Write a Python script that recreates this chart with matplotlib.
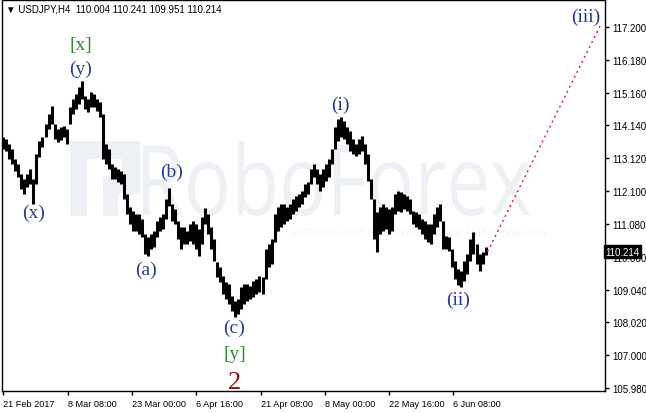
import matplotlib
matplotlib.use("Agg")
import matplotlib.pyplot as plt
import numpy as np
from matplotlib.textpath import TextPath
from matplotlib.patches import PathPatch, Rectangle
from matplotlib.font_manager import FontProperties
from matplotlib.transforms import Affine2D, IdentityTransform

# USDJPY H4, resampled to 3-bar (12h) high/low columns
highs = [113.78, 113.72, 113.56, 113.41, 113.10, 112.94, 112.63, 112.48, 112.63, 112.79,
         112.48, 113.25, 113.66, 113.78, 114.18, 114.50, 114.74, 114.18, 114.03, 114.09,
         114.12, 114.03, 114.71, 114.96, 115.12, 115.34, 115.52, 115.06, 114.96, 115.18,
         115.12, 114.96, 114.87, 114.50, 113.56, 113.41, 112.94, 112.85, 112.79, 112.72,
         112.63, 112.01, 111.60, 111.48, 111.39, 111.39, 111.23, 110.77, 110.67, 110.77,
         110.86, 111.17, 111.29, 111.39, 111.85, 112.20, 111.70, 111.54, 111.17, 110.98,
         110.98, 110.86, 111.08, 111.17, 111.08, 110.92, 111.29, 111.57, 111.39, 110.98,
         110.61, 109.90, 109.74, 109.46, 109.27, 109.21, 108.84, 108.68, 108.74, 109.12,
         109.21, 109.21, 109.15, 109.30, 109.37, 109.46, 109.43, 110.30, 110.45, 110.61,
         111.39, 111.60, 111.70, 111.70, 111.60, 111.70, 111.85, 111.95, 112.01, 112.10,
         112.32, 112.38, 112.79, 112.94, 112.79, 112.63, 112.79, 112.94, 113.10, 113.41,
         114.09, 114.34, 114.40, 114.28, 114.09, 113.97, 113.72, 113.56, 113.72, 113.81,
         113.56, 113.25, 112.48, 111.85, 111.45, 111.60, 111.70, 111.60, 111.54, 111.60,
         112.01, 112.10, 112.07, 112.01, 111.95, 111.85, 111.48, 111.45, 111.39, 111.23,
         111.17, 111.08, 111.08, 111.39, 111.60, 111.70, 111.17, 110.70, 110.67, 110.30,
         109.93, 109.68, 109.62, 109.93, 110.14, 110.61, 110.83, 110.45, 110.14, 110.21,
         110.36]
lows = [113.41, 113.35, 113.10, 112.94, 112.72, 112.54, 112.16, 112.01, 112.23, 112.32,
        111.70, 112.32, 113.16, 113.47, 113.78, 114.03, 114.18, 113.72, 113.63, 113.69,
        113.78, 113.56, 114.18, 114.50, 114.65, 114.81, 114.96, 114.65, 114.56, 114.71,
        114.71, 114.59, 114.40, 113.10, 112.94, 112.79, 112.48, 112.48, 112.38, 112.32,
        111.85, 111.39, 111.08, 110.86, 110.86, 110.77, 110.67, 110.14, 110.08, 110.30,
        110.36, 110.67, 110.86, 110.92, 111.23, 111.64, 111.17, 111.08, 110.61, 110.30,
        110.45, 110.45, 110.55, 110.45, 110.30, 110.08, 110.45, 111.08, 110.77, 110.30,
        109.93, 109.43, 109.27, 108.90, 108.74, 108.59, 108.37, 108.19, 108.28, 108.43,
        108.59, 108.68, 108.74, 108.81, 108.90, 108.96, 108.90, 109.37, 109.74, 109.83,
        110.52, 110.86, 110.98, 111.08, 111.17, 111.23, 111.39, 111.48, 111.60, 111.70,
        111.92, 112.01, 112.32, 112.54, 112.32, 112.10, 112.23, 112.41, 112.54, 112.94,
        113.41, 113.66, 113.78, 113.72, 113.56, 113.35, 113.25, 113.19, 113.25, 113.35,
        112.94, 112.41, 111.85, 110.61, 110.21, 110.77, 110.86, 110.92, 110.77, 110.86,
        111.39, 111.48, 111.45, 111.54, 111.48, 111.39, 111.08, 110.98, 110.92, 110.77,
        110.61, 110.52, 110.45, 110.77, 110.98, 111.17, 110.30, 110.30, 110.24, 109.74,
        109.37, 109.18, 109.12, 109.30, 109.52, 109.93, 110.14, 109.83, 109.62, 109.83,
        110.11]
last_close = 110.214
target_price = 117.23

date_labels = ["21 Feb 2017", "8 Mar 08:00", "23 Mar 00:00", "6 Apr 16:00",
               "21 Apr 08:00", "8 May 00:00", "22 May 16:00", "6 Jun 08:00"]
price_ticks = [105.980, 107.000, 108.020, 109.040, 110.060, 111.080,
               112.100, 113.120, 114.140, 115.160, 116.180, 117.200]

# wave labels: text, bar, price, colour, size
wave_labels = [
    ("[x]", 77, 116.67, "#2e8b2e", 14),
    ("(y)", 77, 115.93, "#2c3a8c", 14),
    ("(x)", 30, 111.45, "#2c3a8c", 14),
    ("(a)", 142, 109.68, "#2c3a8c", 14),
    ("(b)", 167, 112.72, "#2c3a8c", 14),
    ("(c)", 230, 107.87, "#2c3a8c", 14),
    ("[y]", 230, 107.06, "#2e8b2e", 14),
    ("2", 230, 106.18, "#8b0f0f", 19),
    ("(i)", 336, 114.81, "#2c3a8c", 14),
    ("(ii)", 453, 108.74, "#2c3a8c", 14),
    ("(iii)", 580, 117.54, "#2c3a8c", 14),
]

W, H = 646, 414
fig = plt.figure(figsize=(W / 100, H / 100), dpi=100)
fig.patch.set_facecolor("white")
ax = fig.add_axes([2 / W, 22 / H, 603 / W, 391 / H])
ax.set_xlim(-1.3, 598.9)
ax.set_ylim(105.885, 118.039)

# watermark (pixel coords, y from top)
def fit_text(s, family, x0, x1, ytop, ybot, color):
    tp = TextPath((0, 0), s, size=100, prop=FontProperties(family=family))
    bb = tp.get_extents()
    tr = (Affine2D().translate(-bb.x0, -bb.y0)
          .scale((x1 - x0) / bb.width, (ybot - ytop) / bb.height)
          .translate(x0, H - ybot))
    ax.add_patch(PathPatch(tr.transform_path(tp), facecolor=color, edgecolor="none",
                           transform=IdentityTransform(), zorder=0))

wm = "#edf0f4"
fit_text("RoboForex", "Open Sans", 143, 530, 142, 217, wm)
fit_text("ИСПОЛЬЗУЙ РОБОТОВ, ПОЛУЧАЙ ПРИБЫЛЬ", "Open Sans", 293, 546, 228, 238, "#f1f3f6")
for (rx0, ry0, rx1, ry1) in [(70, 142, 87, 217), (87, 142, 140, 160), (122, 160, 140, 195),
                             (103, 178, 122, 195), (103, 195, 118, 217)]:
    ax.add_patch(Rectangle((rx0, H - ry1), rx1 - rx0, ry1 - ry0, facecolor=wm,
                           edgecolor="none", transform=IdentityTransform(), zorder=0))

x = np.arange(len(highs)) * 3
ax.vlines(x, lows, highs, color="black", linewidth=2.2, zorder=2)

# projected wave (iii)
ax.plot([x[-1] + 2, 594], [last_close, target_price], color="#e0194a",
        linestyle=(0, (1.5, 2.5)), linewidth=1, zorder=2)

for txt, bx, py, col, fs in wave_labels:
    ax.text(bx, py, txt, color=col, fontsize=fs, family="Liberation Serif",
            ha="center", va="center", zorder=3)

# axes styling like the terminal
for s in ax.spines.values():
    s.set_color("black")
    s.set_linewidth(1)
ax.yaxis.tick_right()
ax.set_yticks(price_ticks)
ax.set_yticklabels([f"{p:.3f}" for p in price_ticks])
ax.set_xticks(np.arange(len(date_labels)) * 64)
ax.set_xticklabels(date_labels, ha="left")
ax.tick_params(axis="both", direction="out", length=3, width=1, color="black", pad=2)
ax.tick_params(axis="y", labelsize=7)
ax.tick_params(axis="x", labelsize=6.6, pad=3)
for lab in ax.get_xticklabels() + ax.get_yticklabels():
    lab.set_family("Liberation Sans")

# current price tag
ax.text(1.0, last_close, f"{last_close:.3f}", transform=ax.get_yaxis_transform(),
        ha="left", va="center", fontsize=7, family="Liberation Sans", color="white",
        bbox=dict(boxstyle="square,pad=0.15", facecolor="black", edgecolor="black"),
        clip_on=False, zorder=5)

fig.text(6 / W, 1 - 10 / H, "▼ USDJPY,H4  110.004 110.241 109.951 110.214",
         fontsize=7, family=["Liberation Sans", "DejaVu Sans"], va="center", ha="left")

fig.savefig("out.png", dpi=100, facecolor="white")
